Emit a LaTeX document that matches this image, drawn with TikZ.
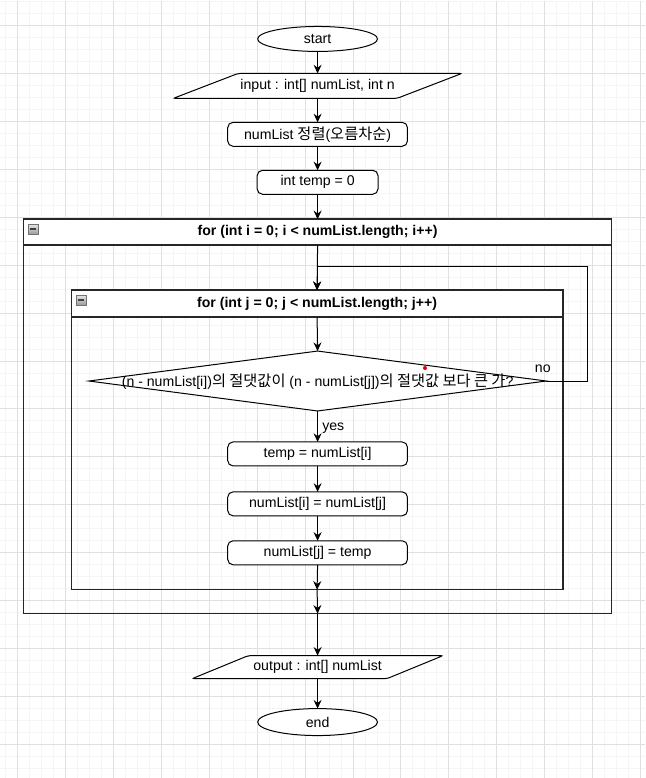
\documentclass[tikz,border=0pt]{standalone}
\usepackage{fontspec}
\setmainfont{Liberation Sans}
\newfontfamily\krfont[Scale=1.08]{Noto Sans CJK KR}
\usetikzlibrary{shapes.geometric,arrows.meta}

\pgfdeclarelayer{grid}
\pgfdeclarelayer{shapes}
\pgfsetlayers{grid,shapes,main}

\begin{document}
\begin{tikzpicture}[x=0.75pt,y=-0.75pt,
  font=\fontsize{10.6pt}{12.5pt}\selectfont,
  every node/.style={outer sep=0pt, inner sep=0pt},
  flow/.style={draw=black, line width=0.75pt,
    -{Stealth[length=6.5pt,width=6pt,inset=2.2pt]}},
  terminal/.style={ellipse, draw=black, fill=white, line width=0.75pt,
    minimum width=90pt, minimum height=18.75pt},
  process/.style={rectangle, rounded corners=4pt, draw=black, fill=white,
    line width=0.75pt, minimum width=135pt, minimum height=18pt},
  iotext/.style={rectangle, minimum height=18.75pt},
  ioshape/.style={draw=black, fill=white, line width=0.75pt, rounded corners=1.5pt},
  decision/.style={diamond, draw=black, fill=white, line width=0.75pt,
    minimum width=343.5pt, minimum height=45pt},
  lanehead/.style={rectangle, draw=black!85, fill=white, line width=1.1pt,
    anchor=north west, font=\fontsize{10.6pt}{12.5pt}\selectfont\bfseries},
  lanebody/.style={rectangle, draw=black!85, line width=1.1pt, anchor=north west},
  foldicon/.style={draw=black!55, line width=0.6pt, top color=black!10, bottom color=black!40},
  folddash/.style={draw=black!75, line width=1.3pt},
  minorgrid/.style={draw=black!4, line width=0.75pt},
  majorgrid/.style={draw=black!12, line width=0.75pt}
]

% page background with drawing grid
\begin{pgfonlayer}{grid}
  \fill[white] (0,0) rectangle (645,778);
  \foreach \x in {5,17,...,641} \draw[minorgrid] (\x,0) -- (\x,778);
  \foreach \y in {1,13,...,777} \draw[minorgrid] (0,\y) -- (645,\y);
  \foreach \x in {17,65,...,641} \draw[majorgrid] (\x,0) -- (\x,778);
  \foreach \y in {25,73,...,777} \draw[majorgrid] (0,\y) -- (645,\y);
\end{pgfonlayer}
\useasboundingbox (0,0) rectangle (645,778);

% loop containers
\node[lanebody, minimum width=441.75pt, minimum height=296.25pt] (outer) at (23,219) {};
\node[lanehead, minimum width=441.75pt, minimum height=19.5pt] (outerhead) at (23,219)
  {for (int i = 0; i < numList.length; i++)};
\draw[foldicon] (28,224) rectangle (38,234);
\draw[folddash] (30,229) -- (36,229);

\node[lanebody, minimum width=369pt, minimum height=225pt] (inner) at (71,290) {};
\node[lanehead, minimum width=369pt, minimum height=20.25pt] (innerhead) at (71,290)
  {for (int j = 0; j < numList.length; j++)};
\draw[foldicon] (76,295) rectangle (86,305);
\draw[folddash] (78,300) -- (84,300);

% flow steps
\node[terminal] (start) at (317.5,38.5) {start};

\node[iotext, minimum width=216.75pt] (input) at (317.5,85.5) {input : int[] numList, int n};
\begin{pgfonlayer}{shapes}
  \draw[ioshape] (input.south west) -- ([xshift=48.75pt]input.north west)
    -- (input.north east) -- ([xshift=-48.75pt]input.south east) -- cycle;
\end{pgfonlayer}

\node[process] (sort) at (317.5,134) {numList {\krfont 정렬}({\krfont 오름차순})};
\node[process, minimum width=90.75pt] (init) at (317.5,182) {int temp = 0};

\node[decision] (cond) at (317.5,381) {};
\node (condtxt) at (317.5,382)
  {(n - numList[i]){\krfont 의 절댓값이} (n - numList[j]){\krfont 의 절댓값 보다 큰 가}?};
\fill[red!90!black] (425,368) circle (1.5pt);

\node[process] (swapa) at (317.5,454) {temp = numList[i]};
\node[process] (swapb) at (317.5,504) {numList[i] = numList[j]};
\node[process] (swapc) at (317.5,553) {numList[j] = temp};

\node[iotext, minimum width=188.25pt, minimum height=17.25pt] (output) at (317.5,667.5) {output : int[] numList};
\begin{pgfonlayer}{shapes}
  \draw[ioshape] (output.south west) -- ([xshift=42pt]output.north west)
    -- (output.north east) -- ([xshift=-42pt]output.south east) -- cycle;
\end{pgfonlayer}

\node[terminal, minimum height=20.25pt] (end) at (317.5,722.5) {end};

% connectors
\draw[flow] (start.south) -- (input.north);
\draw[flow] (input.south) -- (sort.north);
\draw[flow] (sort.south) -- (init.north);
\draw[flow] (init.south) -- (outerhead.north);
\draw[flow] (outerhead.south) -- (innerhead.north);
\draw[flow] (innerhead.south) -- (cond.north);
\draw[flow] (cond.south) -- node[anchor=west, xshift=3.5pt, yshift=-1pt] (yeslbl) {yes} (swapa.north);
\draw[flow] (swapa.south) -- (swapb.north);
\draw[flow] (swapb.south) -- (swapc.north);
\draw[flow] (swapc.south) -- (inner.south);
\draw[flow] (inner.south) -- (outer.south);
\draw[flow] (outer.south) -- (output.north);
\draw[flow] (output.south) -- (end.north);

% "no" branch returns to the top of the inner loop
\coordinate (loopR) at (588,266);
\draw[flow] (cond.east) -| (loopR) -- (loopR -| innerhead.north) -- (innerhead.north);
\node (nolbl) at (543,369) {no};

\end{tikzpicture}
\end{document}
